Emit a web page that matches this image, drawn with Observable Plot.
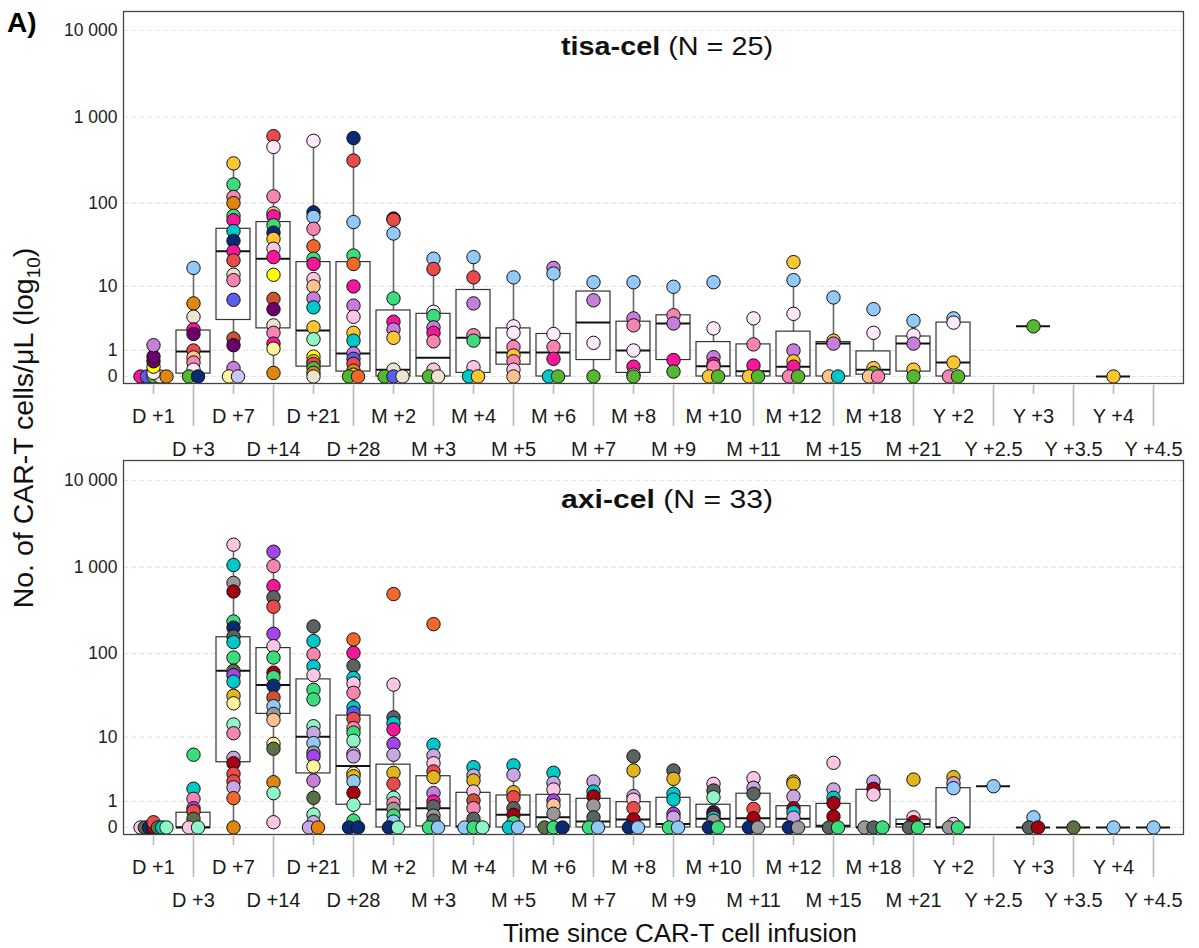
<!DOCTYPE html>
<html><head><meta charset="utf-8">
<script src="https://cdn.jsdelivr.net/npm/d3@7"></script>
<script src="https://cdn.jsdelivr.net/npm/@observablehq/plot@0.6"></script>
<style>
body{margin:0;background:#fff;}
#wrap{position:relative;width:1199px;height:948px;font-family:"Liberation Sans",Arial,sans-serif;background:#fff;}
#wrap > svg{position:absolute;left:0;}
</style></head><body><div id="wrap"></div>
<script>
const timepoints = ["D +1","D +3","D +7","D +14","D +21","D +28","M +2","M +3","M +4","M +5","M +6","M +7","M +8","M +9","M +10","M +11","M +12","M +15","M +18","M +21","Y +2","Y +2.5","Y +3","Y +3.5","Y +4","Y +4.5"];
const yTicks = [0, 1, 10, 100, 1000, 10000];

// patient colours
const palette = {
  mg:"#f5169b", pk:"#f785b1", lp:"#fcc5e2", wh:"#fde9fb", pu:"#c77ddb", lv:"#c9a7e3",
  vi:"#a444ea", dp:"#6b006b", rd:"#e94a4a", mr:"#a30012", br:"#cc5133", or:"#e0860f",
  oo:"#f2682a", gd:"#fbc631", dg:"#e2b51c", ye:"#ffff00", py:"#fff59c", pe:"#fcc38f",
  be:"#ece4d0", gr:"#3ddc7a", lg:"#53b731", mi:"#8ff5c6", cy:"#00c7c9", lb:"#92c9f8",
  bl:"#5b5cf0", nv:"#0c2a73", dk:"#59635f", gy:"#999999", ol:"#5b7045", pv:"#c6c8f2"
};

// tisa-cel: [value, colour] per time point
const tisaPoints = [
 [[0,"mg"],[0,"bl"],[0,"lg"],[0,"be"],[0,"or"],[0.1,"wh"],[0.3,"ye"],[0.5,"dp"],[0.7,"dp"],[1.3,"pu"]],
 [[17,"lb"],[6,"or"],[3.9,"be"],[2.5,"mg"],[2.1,"dp"],[1.0,"rd"],[0.66,"pe"],[0.45,"pk"],[0.2,"wh"],[0,"lg"],[0,"nv"]],
 [[290,"gd"],[165,"gr"],[118,"pk"],[100,"or"],[71,"gr"],[63,"mg"],[47,"cy"],[36,"nv"],[27,"mg"],[21,"rd"],[14,"be"],[12,"pk"],[6.7,"bl"],[1.75,"br"],[1.3,"dp"],[0.25,"pu"],[0,"py"],[0,"pv"]],
 [[600,"rd"],[450,"wh"],[120,"pk"],[76,"pe"],[70,"mg"],[55,"gr"],[45,"nv"],[38,"gd"],[29,"lp"],[23,"mg"],[14,"ye"],[6.9,"br"],[5,"dp"],[2.9,"be"],[2.2,"pk"],[1.4,"mg"],[1.1,"py"],[0.1,"or"]],
 [[530,"wh"],[78,"nv"],[69,"lb"],[50,"pk"],[31,"oo"],[22,"gr"],[19,"mg"],[12.4,"lp"],[10,"pe"],[7,"pu"],[5.3,"cy"],[2.7,"gd"],[1.7,"mi"],[0.7,"ye"],[0.5,"gd"],[0.4,"rd"],[0.25,"lg"],[0.1,"or"],[0,"be"]],
 [[570,"nv"],[313,"rd"],[60,"lb"],[24,"gr"],[19,"oo"],[10,"mg"],[5.6,"pu"],[3.9,"lp"],[2.2,"gd"],[1.6,"cy"],[0.85,"pu"],[0.6,"bl"],[0.4,"rd"],[0.17,"or"],[0.05,"gd"],[0,"lg"],[0,"oo"]],
 [[66,"mr"],[64,"rd"],[44,"lb"],[7,"gr"],[3.3,"mg"],[2.5,"pu"],[1.8,"gd"],[0.2,"be"],[0,"lg"],[0,"bl"],[0,"be"]],
 [[22,"lb"],[16.5,"rd"],[4.6,"wh"],[4,"gr"],[2.7,"pu"],[2.2,"mg"],[1.55,"pk"],[0.2,"lp"],[0,"lg"],[0,"be"]],
 [[23,"lb"],[13,"rd"],[6,"pu"],[2,"pk"],[1.6,"gr"],[0.28,"lp"],[0,"cy"],[0,"gd"]],
 [[13,"lb"],[2.8,"wh"],[2.2,"wh"],[1.2,"pk"],[0.75,"gd"],[0.5,"pk"],[0.2,"lp"],[0,"pe"]],
 [[17,"pu"],[14.5,"lb"],[2.1,"wh"],[1.2,"pk"],[0.6,"mg"],[0,"cy"],[0,"lg"]],
 [[11.3,"lb"],[6.6,"pu"],[1.45,"wh"],[0,"lg"]],
 [[11.3,"lb"],[3.7,"pu"],[2.9,"pk"],[1.0,"wh"],[0.3,"mg"],[0.05,"lp"],[0,"lg"]],
 [[9.9,"lb"],[4.1,"pk"],[3.1,"pu"],[0.55,"mg"],[0.14,"lg"]],
 [[11.3,"lb"],[2.6,"wh"],[0.67,"pu"],[0.4,"mg"],[0.3,"pk"],[0,"gd"],[0,"lg"]],
 [[3.7,"wh"],[1.35,"pk"],[0.34,"mg"],[0,"gd"],[0,"lg"]],
 [[20,"gd"],[12,"lb"],[4.3,"wh"],[1.0,"pu"],[0.5,"gd"],[0.3,"mg"],[0,"pk"],[0,"lg"]],
 [[7.2,"lb"],[1.6,"gd"],[1.4,"pu"],[0,"pe"],[0,"cy"]],
 [[5,"lb"],[2.2,"wh"],[0.25,"gd"],[0.1,"lg"],[0,"pe"],[0,"pk"]],
 [[3.4,"lb"],[2.0,"wh"],[1.4,"pu"],[0.2,"gd"],[0,"lg"]],
 [[3.7,"lb"],[3.2,"wh"],[0.45,"gd"],[0,"pk"],[0,"lg"]],
 [],
 [[2.8,"lg"]],
 [],
 [[0,"gd"]],
 []
];
const tisaQ1     = [0,0.08,3.5,2.6,0.3,0.14,0,0,0.1,0.37,0,0.55,0.1,0.55,0,0,0,0,0.05,0.14,0,null,2.8,null,0,null];
const tisaMedian = [0,0.95,27,22,2.4,0.85,0.2,0.65,1.8,0.9,0.9,3.2,1.0,3.1,0.31,0.15,0.3,1.4,0.2,1.4,0.45,null,2.8,null,0,null];
const tisaQ3     = [0,2.4,50,60,20,20,4.8,4.3,9,2.6,2.1,8.6,3.3,4.1,1.5,1.35,2.3,1.5,0.95,1.9,3.2,null,2.8,null,0,null];
const tisaLow    = [0,0,0,0.1,0,0,0,0,0,0,0,0,0,0.14,0,0,0,0,0,0,0,null,2.8,null,0,null];
const tisaHigh   = [0,17,290,600,530,570,64,22,23,13,17,11.3,11.3,9.9,2.6,3.7,12,7.2,2.2,3.4,3.7,null,2.8,null,0,null];

// axi-cel
const axiPoints = [
 [[0,"lp"],[0,"dk"],[0,"nv"],[0,"mr"],[0.15,"rd"],[0,"ol"],[0,"cy"],[0,"mi"]],
 [[5.9,"gr"],[1.8,"cy"],[1.14,"pk"],[0.67,"vi"],[0.54,"rd"],[0.26,"ol"],[0,"lp"],[0,"mi"]],
 [[1820,"lp"],[1060,"cy"],[660,"gy"],[525,"mr"],[236,"gr"],[200,"nv"],[158,"dk"],[136,"cy"],[90,"gr"],[63,"ol"],[56,"vi"],[47,"cy"],[32,"dg"],[26,"py"],[14.4,"mi"],[11.2,"pk"],[5.35,"lv"],[4.5,"mr"],[3.16,"rd"],[2.4,"rd"],[1.9,"lv"],[1.18,"oo"],[0,"or"]],
 [[1510,"vi"],[1030,"pk"],[605,"mg"],[450,"dk"],[350,"rd"],[170,"vi"],[122,"lp"],[90,"gr"],[60,"mr"],[53,"gr"],[42,"nv"],[30.6,"br"],[24,"lb"],[19.4,"gy"],[16.4,"pe"],[8.2,"py"],[7.1,"ol"],[2.33,"or"],[1.49,"mi"],[0.15,"lp"]],
 [[207,"dk"],[140,"cy"],[98,"pk"],[71,"cy"],[56,"lp"],[37.7,"gr"],[29,"gr"],[13.7,"mi"],[11.3,"lv"],[8.4,"lb"],[6.3,"gy"],[5.6,"vi"],[4.05,"py"],[2.48,"pu"],[1.2,"ol"],[0.41,"mi"],[0.15,"lv"],[0,"lv"],[0,"or"]],
 [[146,"oo"],[102,"mg"],[72,"dk"],[52,"cy"],[44.8,"lp"],[34.7,"pk"],[23.3,"cy"],[20,"bl"],[16.9,"rd"],[13,"pk"],[11.4,"gr"],[9,"mi"],[6.1,"lv"],[5.6,"lv"],[3.2,"py"],[2.9,"dg"],[2.4,"lb"],[1.51,"mr"],[0.83,"mi"],[0.2,"gr"],[0,"nv"],[0,"nv"]],
 [[490,"oo"],[43.4,"lp"],[17.6,"dk"],[15,"cy"],[12.5,"mg"],[8.2,"vi"],[5.9,"lv"],[3.27,"dg"],[2.19,"rd"],[1.2,"mi"],[0.9,"pk"],[0.64,"gy"],[0.37,"gr"],[0.17,"lb"],[0,"nv"],[0,"mi"]],
 [[220,"oo"],[8,"cy"],[5.76,"lv"],[4.5,"lp"],[3.43,"rd"],[2.8,"dg"],[1.49,"pu"],[0.99,"mg"],[0.75,"dk"],[0.37,"gy"],[0.2,"dk"],[0,"gr"],[0,"lb"]],
 [[3.96,"cy"],[2.97,"lv"],[2.48,"dg"],[1.6,"lp"],[1.05,"br"],[0.67,"pk"],[0.26,"dk"],[0,"lb"],[0,"gr"],[0,"mi"]],
 [[4.2,"cy"],[3.05,"lv"],[1.55,"dg"],[1.23,"rd"],[0.67,"dk"],[0.4,"mr"],[0.15,"gr"],[0,"cy"],[0,"lb"]],
 [[3.27,"cy"],[2.27,"lv"],[1.74,"lp"],[1.05,"vi"],[0.8,"pe"],[0.44,"gy"],[0,"ol"],[0,"gr"],[0,"nv"]],
 [[2.39,"lv"],[1.6,"cy"],[1.28,"mr"],[0.79,"gy"],[0.31,"dk"],[0,"gr"],[0,"lb"]],
 [[5.6,"dk"],[3.54,"dg"],[1.3,"lv"],[1.09,"lp"],[0.67,"rd"],[0.24,"mr"],[0,"nv"],[0,"lb"]],
 [[3.54,"dk"],[2.64,"dg"],[1.45,"cy"],[1.1,"cy"],[0.44,"vi"],[0.3,"lv"],[0,"gr"],[0,"lb"]],
 [[2.19,"lp"],[1.67,"dk"],[1.23,"mi"],[0.5,"nv"],[0.4,"mr"],[0.3,"cy"],[0.2,"gy"],[0,"nv"],[0,"gr"]],
 [[2.7,"lp"],[1.87,"lv"],[1.45,"dk"],[0.64,"rd"],[0.28,"mr"],[0,"nv"],[0,"gy"]],
 [[2.39,"dg"],[2.2,"dg"],[1.28,"lv"],[0.67,"mr"],[0.5,"cy"],[0.3,"lv"],[0,"nv"],[0,"gy"]],
 [[4.57,"lp"],[1.74,"lv"],[1.2,"cy"],[0.91,"mr"],[0.34,"mr"],[0,"dk"],[0,"gr"]],
 [[2.39,"lv"],[1.79,"mr"],[1.4,"lp"],[0,"gy"],[0,"dk"],[0,"gr"]],
 [[2.57,"dg"],[0.31,"lp"],[0.15,"mr"],[0,"dk"],[0,"gr"]],
 [[2.8,"dg"],[2.23,"lv"],[1.84,"lb"],[0.1,"lp"],[0,"gy"],[0,"gr"]],
 [[1.99,"lb"]],
 [[0.31,"lb"],[0,"dk"],[0,"mr"]],
 [[0,"ol"]],
 [[0,"lb"]],
 [[0,"lb"]]
];
const axiQ1     = [0,0,4.65,19.4,3.2,0.83,0,0.03,0,0,0,0,0,0,0,0,0,0,0,0,0,1.99,0,0,0,0];
const axiMedian = [0,0,63,43,10.1,4.1,0.61,0.67,0.03,0.4,0.31,0.17,0.24,0.1,0.26,0.28,0.26,0.05,0,0.1,0,1.99,0,0,0,0];
const axiQ3     = [0,0.48,155,116,50,18.5,4.3,2.9,1.51,1.34,1.38,1.14,0.96,1.2,0.83,1.45,0.76,0.87,1.72,0.23,1.84,1.99,0,0,0,0];
const axiLow    = [0,0,0,0.15,0,0,0,0,0,0,0,0,0,0,0,0,0,0,0,0,0,1.99,0,0,0,0];
const axiHigh   = [0,1.8,1820,1510,207,146,43.4,8,3.96,4.2,3.27,2.39,3.54,3.54,2.19,2.7,2.39,1.74,2.39,0.31,2.8,1.99,0,0,0,0];

const FONT = '"Liberation Sans", Arial, sans-serif';
const yFmt = d => d >= 1000 ? d3.format(",")(d).replace(/,/g, " ") : String(d);
const HW = 0.425; // half box width in category units

function panel(points, q1, med, q3, lo, hi, yDomain, height, marginTop, marginBottom) {
  const dots = [];
  points.forEach((arr, i) => {
    const nz = arr.filter(p => p[0] === 0).length;
    const w = Math.min(13, 4.5 * (nz - 1));
    let k = 0;
    arr.forEach(([v, c]) => {
      let off = 0;
      if (v === 0 && nz > 1) { off = -w + 2 * w * k / (nz - 1); k++; }
      dots.push({x: i + off / 40, v, fill: palette[c]});
    });
  });
  const boxes = timepoints.map((t, i) => ({i, q1: q1[i], med: med[i], q3: q3[i], lo: lo[i], hi: hi[i]}))
    .filter(d => d.med != null);
  const evens = d3.range(0, 26, 2), odds = d3.range(1, 26, 2);
  return Plot.plot({
    width: 1199, height, marginLeft: 123, marginRight: 16, marginTop, marginBottom,
    style: {fontFamily: FONT, background: "transparent", overflow: "visible"},
    x: {domain: [-0.75, 25.75]},
    y: {type: "symlog", constant: 1, domain: yDomain},
    color: {type: "identity"},
    marks: [
      Plot.ruleY(yTicks, {stroke: "#e4e4e4", strokeWidth: 1.2, strokeDasharray: "5,3"}),
      Plot.ruleX(boxes.filter(d => d.hi > d.q3), {x: "i", y1: "q3", y2: "hi", stroke: "#666", strokeWidth: 1.6}),
      Plot.ruleX(boxes.filter(d => d.lo < d.q1), {x: "i", y1: "lo", y2: "q1", stroke: "#666", strokeWidth: 1.6}),
      Plot.ruleY(boxes.filter(d => d.hi > d.q3), {y: "hi", x1: d => d.i - 0.12, x2: d => d.i + 0.12, stroke: "#333", strokeWidth: 1}),
      Plot.rect(boxes, {x1: d => d.i - HW, x2: d => d.i + HW, y1: "q1", y2: "q3", fill: "white", stroke: "#333", strokeWidth: 1.2}),
      Plot.ruleY(boxes, {y: "med", x1: d => d.i - HW, x2: d => d.i + HW, stroke: "#111", strokeWidth: 2}),
      Plot.dot(dots, {x: "x", y: "v", r: 6.7, fill: "fill", stroke: "#111", strokeWidth: 1}),
      Plot.frame({stroke: "#444", strokeWidth: 1.3}),
      Plot.axisY({ticks: yTicks, tickSize: 0, tickPadding: 6, tickFormat: yFmt, fontSize: 17.5, fill: "#222", label: null}),
      Plot.axisX({ticks: evens, tickSize: 9, tickPadding: 14, dy: 2, tickFormat: i => timepoints[i], fontSize: 20, stroke: "#b8b8b8", strokeWidth: 1.6, fill: "#1a1a1a", label: null}),
      Plot.axisX({ticks: odds, tickSize: 41, tickPadding: 15, dy: 2, tickFormat: i => timepoints[i], fontSize: 20, stroke: "#b8b8b8", strokeWidth: 1.6, fill: "#1a1a1a", label: null})
    ]
  });
}

const wrap = document.getElementById("wrap");
const p1 = panel(tisaPoints, tisaQ1, tisaMedian, tisaQ3, tisaLow, tisaHigh, [-0.2048, 16593], 455, 11, 72);
p1.style.top = "0px";
wrap.appendChild(p1);
const p2 = panel(axiPoints, axiQ1, axiMedian, axiQ3, axiLow, axiHigh, [-0.2042, 17010], 498, 10, 114);
p2.style.top = "450px";
wrap.appendChild(p2);

// text overlay
const ov = d3.create("svg").attr("width", 1199).attr("height", 948)
  .style("position", "absolute").style("top", "0px").style("left", "0px")
  .style("pointer-events", "none").style("font-family", FONT);
ov.append("text").attr("x", 7).attr("y", 32).attr("font-size", 28).attr("font-weight", "bold").attr("fill", "#000").text("A)");
function title(y, bold, rest) {
  const t = ov.append("text").attr("x", 667).attr("y", y).attr("text-anchor", "middle").attr("font-size", 25).attr("fill", "#111")
    .attr("textLength", 212).attr("lengthAdjust", "spacingAndGlyphs");
  t.append("tspan").attr("font-weight", "bold").text(bold);
  t.append("tspan").text(rest);
}
title(55, "tisa-cel", " (N = 25)");
title(508, "axi-cel", " (N = 33)");
const yl = ov.append("text").attr("transform", "translate(33,428) rotate(-90)").attr("text-anchor", "middle")
  .attr("font-size", 28.5).attr("fill", "#111");
yl.append("tspan").text("No. of CAR-T cells/μL (log");
yl.append("tspan").attr("font-size", 19).attr("dy", 7).text("10");
yl.append("tspan").attr("dy", -7).text(")");
ov.append("text").attr("x", 680).attr("y", 942).attr("text-anchor", "middle").attr("font-size", 26).attr("fill", "#111")
  .text("Time since CAR-T cell infusion");
wrap.appendChild(ov.node());
</script></body></html>
